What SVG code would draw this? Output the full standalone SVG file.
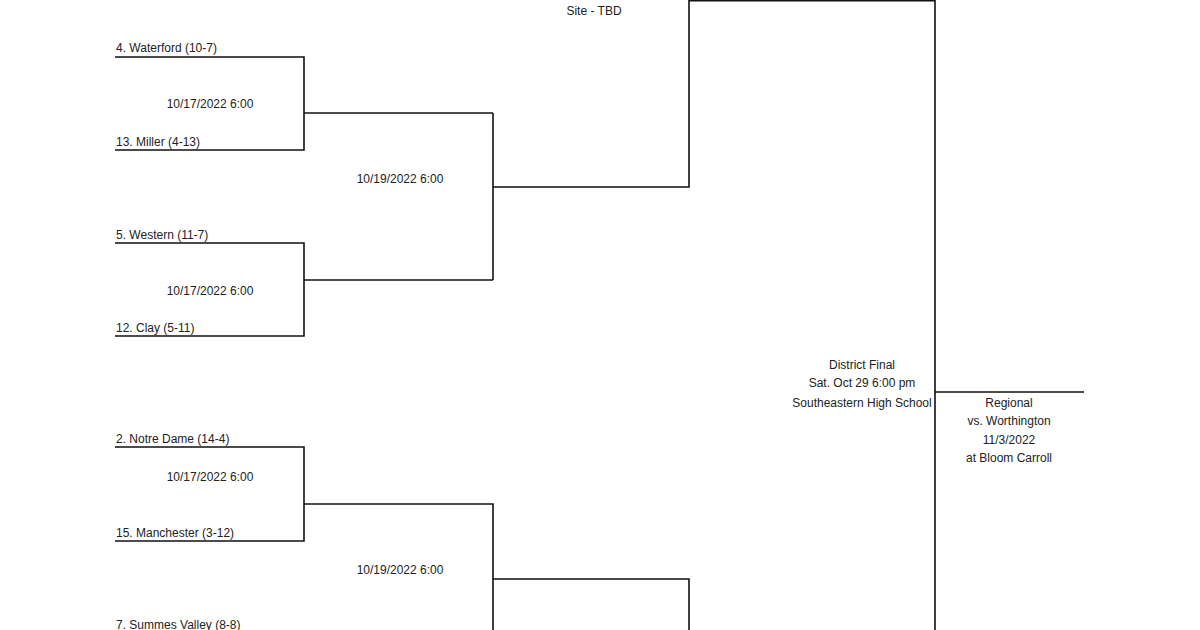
<svg xmlns="http://www.w3.org/2000/svg" width="1200" height="630" viewBox="0 0 1200 630">
<style>
text{font-family:"Liberation Sans",Arial,sans-serif;font-size:12px;fill:#222}
.c{text-anchor:middle}
.ln{fill:none;stroke:#111;stroke-width:1.6}
</style>
<rect width="1200" height="630" fill="#fff"/>
<g id="connectors" class="ln">
<path d="M115,57H304V150H115"/>
<path d="M304,113H493"/>
<path d="M115,243H304V336H115"/>
<path d="M304,280H493"/>
<path d="M493,113V280"/>
<path d="M493,187H689V0.8H935V630"/>
<path d="M935,392H1084"/>
<path d="M115,447H304V541H115"/>
<path d="M304,504H493V630"/>
<path d="M493,579H689V630"/>
</g>
<g id="waterford"><text x="116" y="52">4. Waterford (10-7)</text></g>
<g id="miller"><text x="116" y="146">13. Miller (4-13)</text></g>
<g id="g1"><text class="c" x="210" y="108">10/17/2022 6:00</text></g>
<g id="western"><text x="116" y="239">5. Western (11-7)</text></g>
<g id="clay"><text x="116" y="332">12. Clay (5-11)</text></g>
<g id="g2"><text class="c" x="210" y="295">10/17/2022 6:00</text></g>
<g id="s1"><text class="c" x="400" y="183">10/19/2022 6:00</text></g>
<g id="site"><text class="c" x="594" y="15">Site - TBD</text></g>
<g id="notredame"><text x="116" y="443">2. Notre Dame (14-4)</text></g>
<g id="manchester"><text x="116" y="537">15. Manchester (3-12)</text></g>
<g id="g3"><text class="c" x="210" y="481">10/17/2022 6:00</text></g>
<g id="s2"><text class="c" x="400" y="574">10/19/2022 6:00</text></g>
<g id="summes"><text x="116" y="629">7. Summes Valley (8-8)</text></g>
<g id="final">
<text class="c" x="862" y="369">District Final</text>
<text class="c" x="862" y="387">Sat. Oct 29 6:00 pm</text>
<text class="c" x="862" y="407">Southeastern High School</text>
</g>
<g id="regional">
<text class="c" x="1009" y="407">Regional</text>
<text class="c" x="1009" y="425">vs. Worthington</text>
<text class="c" x="1009" y="444">11/3/2022</text>
<text class="c" x="1009" y="462">at Bloom Carroll</text>
</g>
</svg>
